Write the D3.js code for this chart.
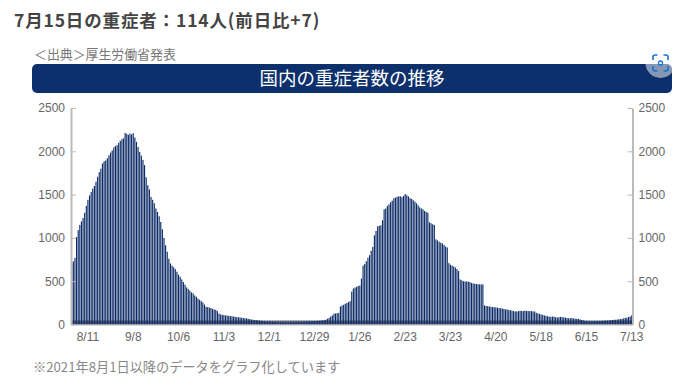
<!DOCTYPE html>
<html lang="ja">
<head>
<meta charset="UTF-8">
<title>国内の重症者数の推移</title>
<script src="https://cdn.jsdelivr.net/npm/d3@7"></script>
<style>
    html, body { margin: 0; padding: 0; background: #fff; }
    svg { display: block; }
    text { font-family: "Noto Sans CJK JP", sans-serif; }
    .axis text { font-family: "Liberation Sans", sans-serif; font-size: 12px; fill: #666; }
    .axis path, .axis line { stroke: #bbb; }
</style>
</head>
<body>
<div id="chart"></div>
<script>
    var mainTitle = "7月15日の重症者：114人(前日比+7)";
    var sourceText = "＜出典＞厚生労働省発表";
    var chartTitle = "国内の重症者数の推移";
    var noteText = "※2021年8月1日以降のデータをグラフ化しています";

    var yTicks = [0, 500, 1000, 1500, 2000, 2500];
    var tickDays = [10, 38, 66, 94, 122, 150, 178, 206, 234, 262, 290, 318, 346];
    var tickLabels = ["8/11", "9/8", "10/6", "11/3", "12/1", "12/29", "1/26", "2/23", "3/23", "4/20", "5/18", "6/15", "7/13"];

    // 毎日の重症者数 (picture から読み取り)
    var aug = [705, 730, 770, 1010, 1090, 1150, 1190, 1230, 1290, 1370, 1440, 1490, 1530, 1570, 1600, 1650, 1705, 1760, 1800, 1860, 1885, 1895, 1920, 1955, 1985, 2010, 2045, 2060, 2070, 2097, 2120];
    var sep = [2140, 2150, 2213, 2200, 2190, 2205, 2195, 2210, 2160, 2110, 2050, 1993, 1950, 1900, 1840, 1700, 1608, 1560, 1473, 1440, 1400, 1340, 1300, 1250, 1184, 1100, 1000, 915, 840, 760];
    var oct = [705, 680, 660, 640, 610, 575, 550, 520, 490, 460, 428, 410, 390, 370, 358, 335, 320, 300, 285, 270, 255, 230, 205, 200, 195, 190, 180, 173, 170, 155, 125];
    var nov = [116, 112, 108, 105, 103, 100, 98, 95, 92, 88, 85, 83, 82, 78, 75, 73, 70, 66, 62, 58, 55, 52, 50, 48, 45, 42, 40, 37, 35, 34];
    var dec = [33, 31, 30, 29, 28, 27, 27, 26, 26, 27, 28, 26, 25, 25, 26, 27, 28, 27, 27, 28, 28, 30, 31, 33, 35, 36, 38, 38, 40, 41, 42];
    var jan = [44, 46, 48, 50, 55, 66, 76, 92, 105, 125, 127, 130, 135, 208, 220, 228, 240, 250, 258, 270, 380, 415, 425, 435, 445, 450, 530, 680, 700, 730, 770];
    var feb = [800, 850, 895, 1030, 1080, 1134, 1140, 1145, 1203, 1330, 1340, 1370, 1388, 1410, 1430, 1458, 1465, 1475, 1480, 1481, 1470, 1485, 1507, 1493, 1480, 1460, 1450, 1435];
    var mar = [1420, 1400, 1377, 1353, 1340, 1330, 1311, 1300, 1290, 1180, 1170, 1157, 1150, 983, 970, 955, 945, 937, 920, 900, 890, 709, 690, 680, 670, 659, 640, 617, 520, 510, 500];
    var apr = [497, 497, 495, 490, 480, 474, 470, 468, 465, 463, 463, 463, 220, 215, 212, 208, 205, 200, 200, 197, 195, 190, 188, 185, 180, 175, 174, 168, 165, 160];
    var may = [155, 152, 150, 155, 158, 156, 155, 160, 158, 155, 155, 154, 152, 150, 135, 128, 122, 116, 112, 105, 100, 95, 90, 88, 92, 90, 85, 78, 85, 88, 85];
    var jun = [82, 80, 76, 72, 72, 75, 70, 68, 66, 65, 60, 52, 48, 42, 38, 35, 34, 34, 35, 36, 36, 38, 38, 40, 42, 44, 45, 46, 47, 50];
    var jul = [52, 54, 55, 58, 60, 62, 66, 70, 76, 80, 86, 92, 107];
    var dailyValues = [].concat(aug, sep, oct, nov, dec, jan, feb, mar, apr, may, jun, jul);
    var bandValue = 46;

    var width = 684;
    var height = 391;
    var plotLeft = 71;
    var plotRight = 632.5;
    var plotTop = 108;
    var plotBottom = 324.5;

    var svg = d3.select("#chart").append("svg")
            .attr("width", width)
            .attr("height", height);

    svg.append("text")
            .attr("x", 14)
            .attr("y", 27)
            .attr("font-size", 17.5)
            .attr("font-weight", 700)
            .attr("letter-spacing", 0.85)
            .attr("fill", "#444")
            .text(mainTitle);

    svg.append("text")
            .attr("x", 34)
            .attr("y", 59)
            .attr("font-size", 12.9)
            .attr("fill", "#777")
            .text(sourceText);

    //タイトルバー
    svg.append("rect")
            .attr("x", 32)
            .attr("y", 64)
            .attr("width", 640)
            .attr("height", 29)
            .attr("rx", 5)
            .attr("fill", "#0d2f6b");

    svg.append("text")
            .attr("x", 352)
            .attr("y", 85)
            .attr("text-anchor", "middle")
            .attr("font-size", 18.5)
            .attr("fill", "#fff")
            .text(chartTitle);

    var x = d3.scaleBand()
            .domain(d3.range(dailyValues.length))
            .range([plotLeft, plotRight])
            .paddingInner(0.3)
            .paddingOuter(0.1);

    var y = d3.scaleLinear()
            .domain([0, 2500])
            .range([plotBottom, plotTop]);

    svg.append("g")
            .selectAll("rect")
            .data(dailyValues)
            .enter()
            .append("rect")
            .attr("x", function (d, i) {
                return x(i);
            })
            .attr("y", function (d) {
                return y(d);
            })
            .attr("width", x.bandwidth())
            .attr("height", function (d) {
                return y(0) - y(d);
            })
            .attr("fill", "#0a2a66");

    //下部の帯
    svg.append("g")
            .selectAll("rect")
            .data(dailyValues)
            .enter()
            .append("rect")
            .attr("x", function (d, i) {
                return x(i) - x.step() * 0.15;
            })
            .attr("y", y(bandValue))
            .attr("width", x.step())
            .attr("height", y(0) - y(bandValue))
            .attr("fill", "#1c2f5e")
            .attr("fill-opacity", 0.8);

    var yLeft = d3.axisLeft(y).tickValues(yTicks).tickFormat(d3.format("d")).tickSizeInner(-5).tickSizeOuter(0).tickPadding(6);
    var yRight = d3.axisRight(y).tickValues(yTicks).tickFormat(d3.format("d")).tickSizeInner(-5).tickSizeOuter(0).tickPadding(6);
    var xAxis = d3.axisBottom(x)
            .tickValues(tickDays)
            .tickSize(0)
            .tickPadding(8)
            .tickFormat(function (d) {
                return tickLabels[tickDays.indexOf(d)];
            });

    svg.append("g")
            .attr("class", "axis")
            .attr("transform", "translate(0," + plotBottom + ")")
            .call(xAxis);

    svg.append("g")
            .attr("class", "axis")
            .attr("transform", "translate(" + plotLeft + ",0)")
            .call(yLeft)
            .select(".domain").attr("stroke-width", 2);

    svg.append("g")
            .attr("class", "axis")
            .attr("transform", "translate(" + plotRight + ",0)")
            .call(yRight)
            .select(".domain").attr("stroke-width", 2);

    svg.append("text")
            .attr("x", 33)
            .attr("y", 372)
            .attr("font-size", 13.2)
            .attr("fill", "#888")
            .text(noteText);

    //スクリーンショットのアイコン
    var icon = svg.append("g").attr("transform", "translate(660.5,63)");
    icon.append("circle")
            .attr("r", 15)
            .attr("fill", "#fff")
            .attr("fill-opacity", 0.5);
    icon.append("path")
            .attr("d", "M-7.5,-3v-3a2,2 0 0 1 2,-2h2.5M3,-8h2.5a2,2 0 0 1 2,2v3M7.5,3v3a2,2 0 0 1 -2,2h-2.5M-3,8h-2.5a2,2 0 0 1 -2,-2v-3")
            .attr("fill", "none")
            .attr("stroke", "#1a73d0")
            .attr("stroke-width", 1.6);
    icon.append("circle")
            .attr("r", 2)
            .attr("fill", "none")
            .attr("stroke", "#1a73d0")
            .attr("stroke-width", 1.3);
</script>
</body>
</html>
